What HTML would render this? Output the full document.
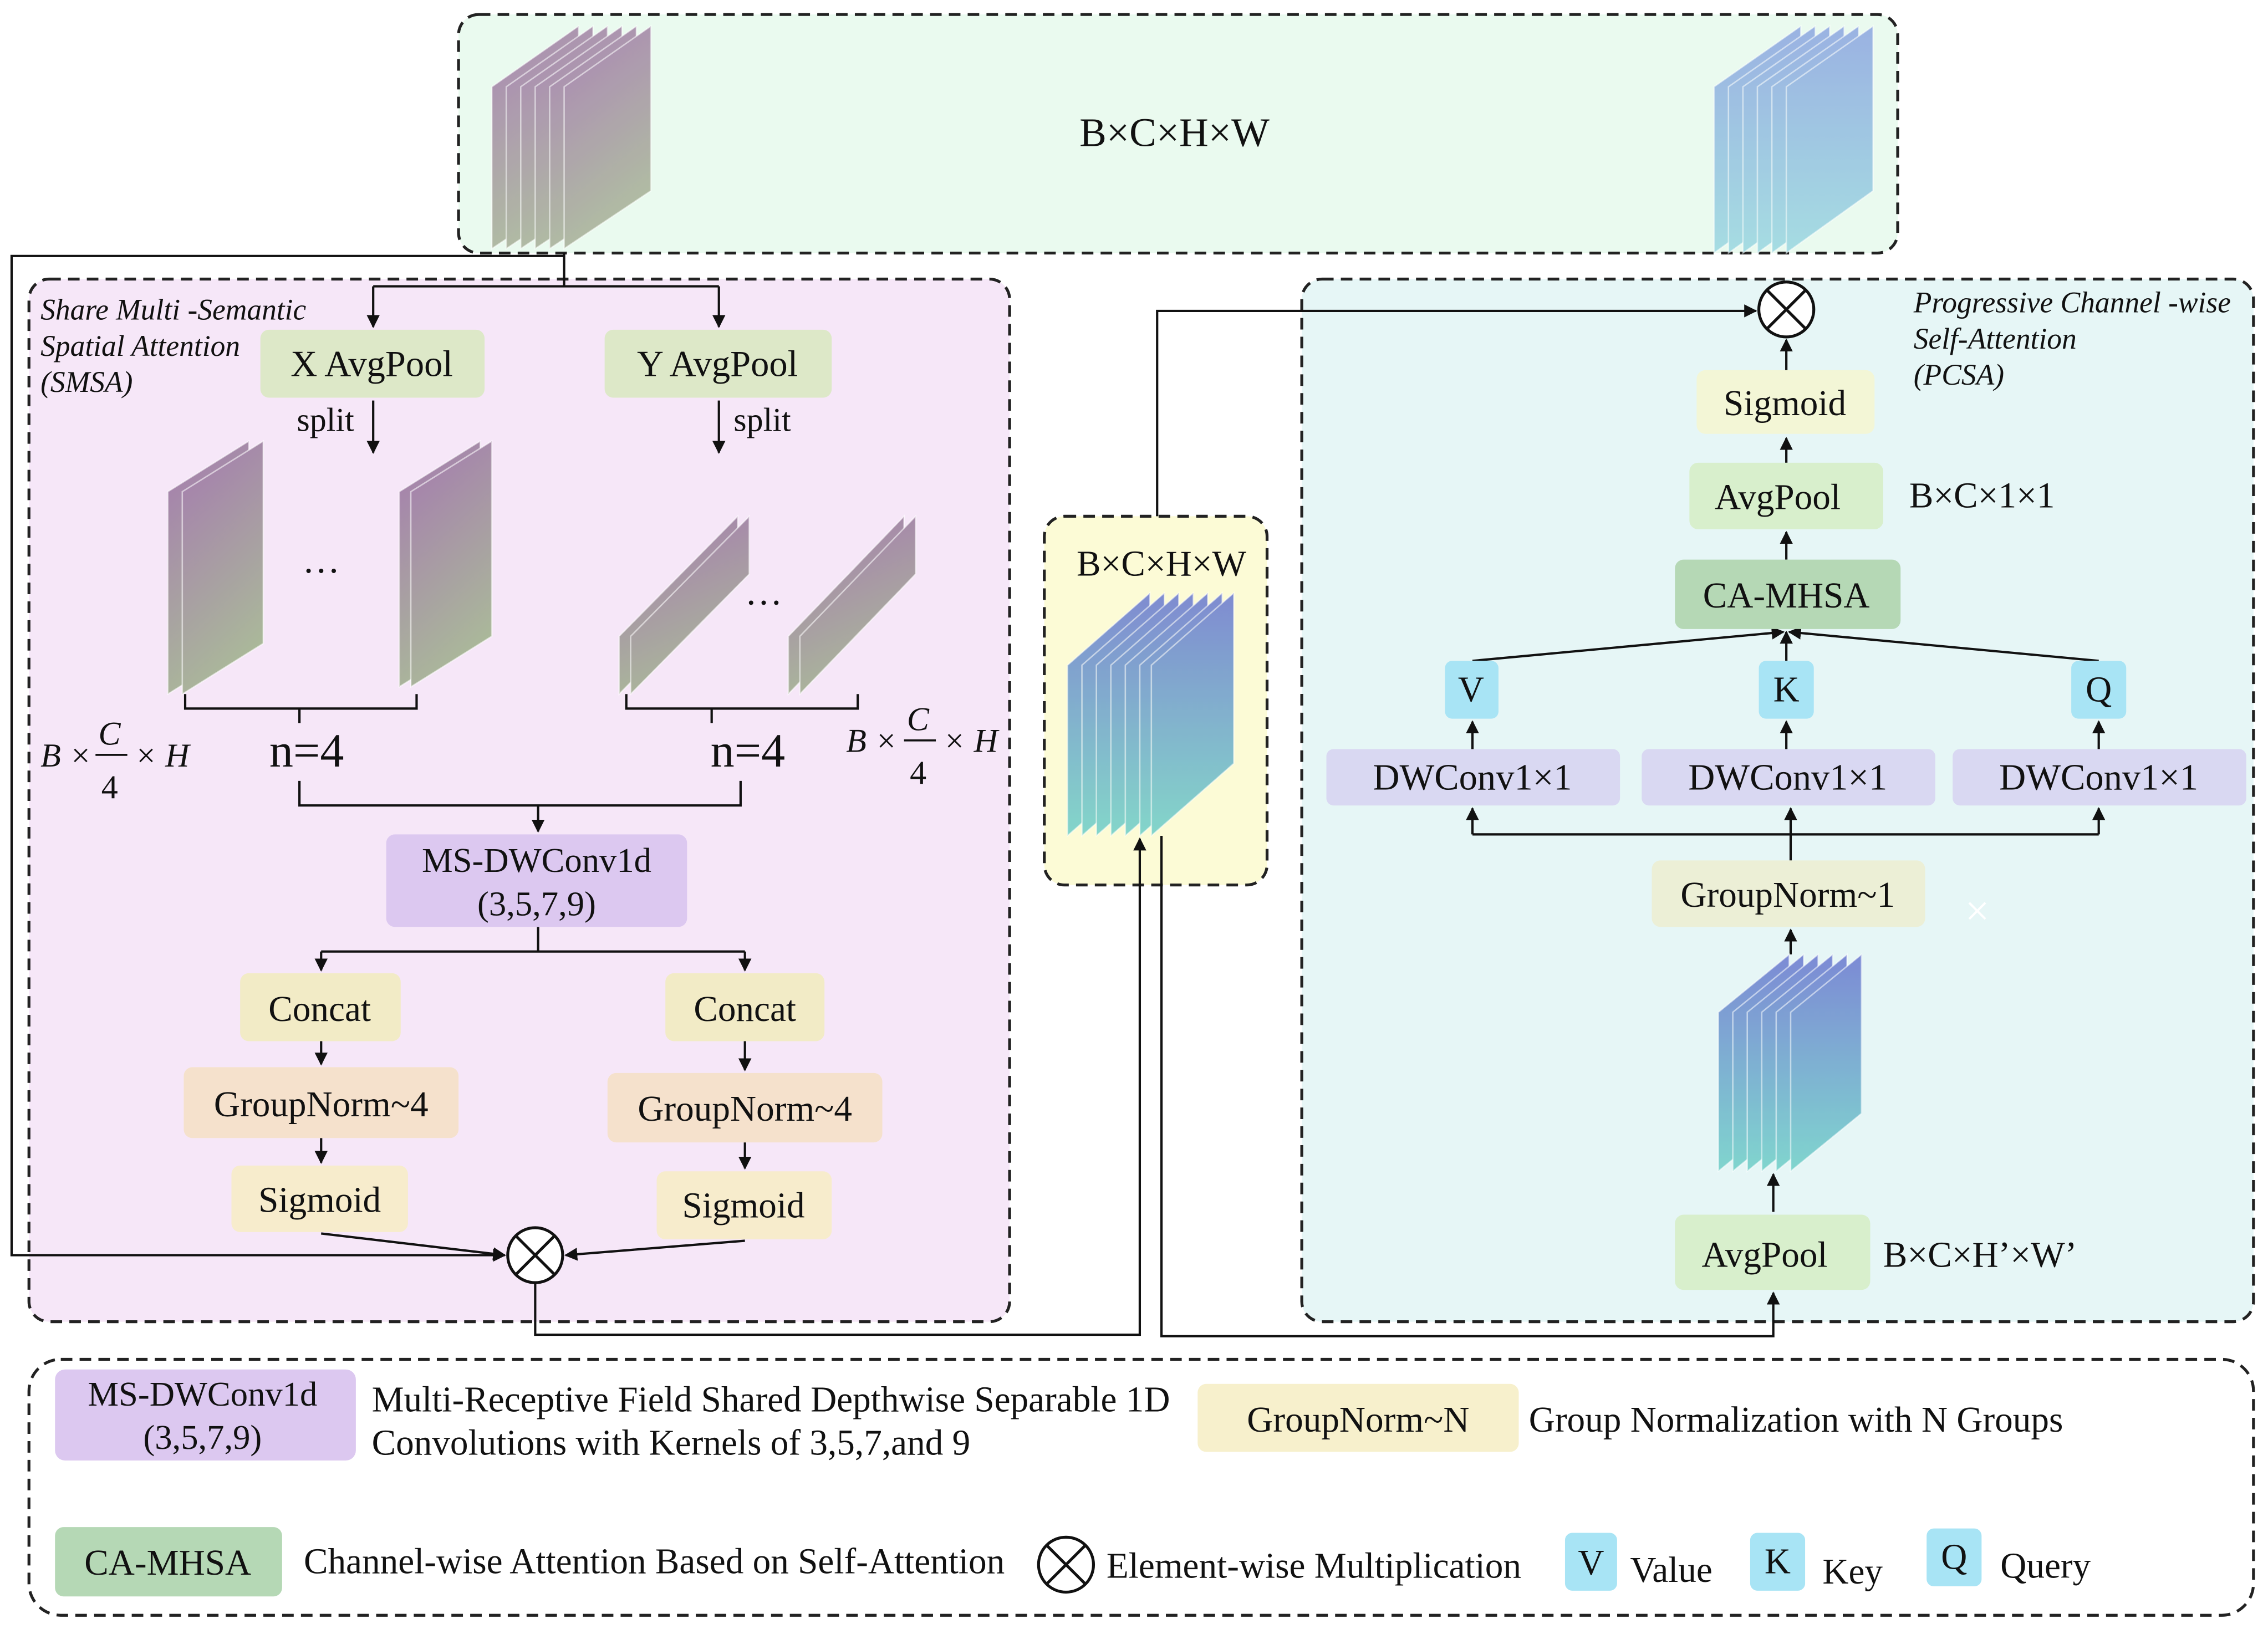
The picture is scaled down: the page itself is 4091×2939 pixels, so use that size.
<!DOCTYPE html>
<html><head><meta charset="utf-8"><style>
html,body{margin:0;padding:0;background:#fff}
svg{display:block}
text{font-family:"Liberation Serif",serif;fill:#111}
.st polygon{stroke:#fff;stroke-opacity:0.55;stroke-width:1}
</style></head><body>
<svg width="4091" height="2939" viewBox="0 0 1568 1126.5" xmlns="http://www.w3.org/2000/svg">
<defs>
<linearGradient id="gp" x1="0" y1="0" x2="0.3" y2="1"><stop offset="0" stop-color="#a57aaf"/><stop offset="1" stop-color="#aab89a"/></linearGradient>
<linearGradient id="gb" x1="0" y1="0" x2="0" y2="1"><stop offset="0" stop-color="#6a78d0"/><stop offset="1" stop-color="#6fd0c8"/></linearGradient>
<linearGradient id="gb2" x1="0" y1="0" x2="0" y2="1"><stop offset="0" stop-color="#8da6e0"/><stop offset="1" stop-color="#9ad8e0"/></linearGradient>
<marker id="ar" viewBox="0 0 10 10" refX="9" refY="5" markerWidth="9" markerHeight="9" orient="auto-start-reverse" markerUnits="userSpaceOnUse"><path d="M0,0L10,5L0,10z" fill="#111"/></marker>
</defs>
<rect x="317" y="10" width="995" height="165" rx="14" fill="#eafaef" stroke="#222" stroke-width="2" stroke-dasharray="8,5"/>
<rect x="20" y="193" width="678" height="721" rx="14" fill="#f6e7f8" stroke="#222" stroke-width="2" stroke-dasharray="8,5"/>
<rect x="900" y="193" width="658" height="721" rx="14" fill="#e6f6f6" stroke="#222" stroke-width="2" stroke-dasharray="8,5"/>
<rect x="722" y="357" width="154" height="255" rx="14" fill="#fcfbd6" stroke="#222" stroke-width="2" stroke-dasharray="8,5"/>
<rect x="20" y="940" width="1538" height="177" rx="22" fill="#fff" stroke="#222" stroke-width="2" stroke-dasharray="8,5"/>

<g class="st" fill="url(#gp)" opacity="0.9">
<polygon points="340,60 400,18 400,132 340,172"/>
<polygon points="350,60 410,18 410,132 350,172"/>
<polygon points="360,60 420,18 420,132 360,172"/>
<polygon points="370,60 430,18 430,132 370,172"/>
<polygon points="380,60 440,18 440,132 380,172"/>
<polygon points="390,60 450,18 450,132 390,172"/>
</g>
<g class="st" fill="url(#gb2)" opacity="0.85">
<polygon points="1185,60 1245,18 1245,132 1185,175"/>
<polygon points="1195,60 1255,18 1255,132 1195,175"/>
<polygon points="1205,60 1265,18 1265,132 1205,175"/>
<polygon points="1215,60 1275,18 1275,132 1215,175"/>
<polygon points="1225,60 1285,18 1285,132 1225,175"/>
<polygon points="1235,60 1295,18 1295,132 1235,175"/>
</g>
<text x="812" y="101" font-size="28" text-anchor="middle">B×C×H×W</text>

<g font-style="italic" font-size="20.5"><text x="28" y="221">Share Multi -Semantic</text><text x="28" y="246">Spatial Attention</text><text x="28" y="271">(SMSA)</text></g>
<g fill="none" stroke="#111" stroke-width="1.6">
<path d="M390,175V198M258,198H497"/>
<path d="M258,198V226" marker-end="url(#ar)"/><path d="M497,198V226" marker-end="url(#ar)"/>
<path d="M390,177H8V868H349" marker-end="url(#ar)"/>
<path d="M258,277V313" marker-end="url(#ar)"/><path d="M497,277V313" marker-end="url(#ar)"/>
<path d="M128,480V490H288V480M207,490V500M433,480V490H593V480M492,490V500"/>
<path d="M207,540V557H512V540"/><path d="M372,557V575" marker-end="url(#ar)"/>
<path d="M372,641V658M222,658H515"/><path d="M222,658V671" marker-end="url(#ar)"/><path d="M515,658V671" marker-end="url(#ar)"/>
<path d="M222,720V736" marker-end="url(#ar)"/><path d="M515,720V740" marker-end="url(#ar)"/>
<path d="M222,787V804" marker-end="url(#ar)"/><path d="M515,790V808" marker-end="url(#ar)"/>
<path d="M222,853L349,868" marker-end="url(#ar)"/><path d="M515,858L391,868" marker-end="url(#ar)"/>
<path d="M370,887V923H788V580" marker-end="url(#ar)"/>
<path d="M800,357V215H1214" marker-end="url(#ar)"/>
<path d="M803,578V924H1226V894" marker-end="url(#ar)"/>
</g>
<rect x="180" y="228" width="155" height="47" rx="6" fill="#dde8c8"/><text x="257" y="260" font-size="25.5" text-anchor="middle">X AvgPool</text>
<rect x="418" y="228" width="157" height="47" rx="6" fill="#dde8c8"/><text x="496" y="260" font-size="25.5" text-anchor="middle">Y AvgPool</text>
<text x="225" y="298" font-size="23" text-anchor="middle">split</text><text x="527" y="298" font-size="23" text-anchor="middle">split</text>
<g class="st" fill="url(#gp)">
<polygon points="116,340 172,305 172,445 116,480"/><polygon points="126,340 182,305 182,445 126,480"/>
<polygon points="276,340 332,305 332,440 276,475"/><polygon points="284,340 340,305 340,440 284,475"/>
<polygon points="428,440 510,357 510,397 428,480"/><polygon points="436,440 518,357 518,397 436,480"/>
<polygon points="545,440 625,357 625,397 545,480"/><polygon points="553,440 633,357 633,397 553,480"/>
</g>
<text x="222" y="396" font-size="26" text-anchor="middle">…</text><text x="528" y="418" font-size="26" text-anchor="middle">…</text>
<text x="212" y="530" font-size="33" text-anchor="middle">n=4</text><text x="517" y="530" font-size="33" text-anchor="middle">n=4</text>
<g font-style="italic" font-size="23">
<text x="28" y="530">B ×</text><text x="68" y="515">C</text><line x1="66" y1="522" x2="88" y2="522" stroke="#111" stroke-width="1.4"/><text x="70" y="552" font-style="normal">4</text><text x="93" y="530">× H</text>
<text x="585" y="520">B ×</text><text x="627" y="505">C</text><line x1="625" y1="512" x2="647" y2="512" stroke="#111" stroke-width="1.4"/><text x="629" y="542" font-style="normal">4</text><text x="652" y="520">× H</text>
</g>
<rect x="267" y="577" width="208" height="64" rx="6" fill="#dcc8f0"/><text x="371" y="603" font-size="24" text-anchor="middle">MS-DWConv1d</text><text x="371" y="633" font-size="24" text-anchor="middle">(3,5,7,9)</text>
<rect x="166" y="673" width="111" height="47" rx="6" fill="#f2ebc6"/><text x="221" y="706" font-size="25" text-anchor="middle">Concat</text>
<rect x="460" y="673" width="110" height="47" rx="6" fill="#f2ebc6"/><text x="515" y="706" font-size="25" text-anchor="middle">Concat</text>
<rect x="127" y="738" width="190" height="49" rx="6" fill="#f5e1cc"/><text x="222" y="772" font-size="25" text-anchor="middle">GroupNorm~4</text>
<rect x="420" y="742" width="190" height="48" rx="6" fill="#f5e1cc"/><text x="515" y="775" font-size="25" text-anchor="middle">GroupNorm~4</text>
<rect x="160" y="806" width="122" height="46" rx="6" fill="#f7eccc"/><text x="221" y="838" font-size="25" text-anchor="middle">Sigmoid</text>
<rect x="454" y="810" width="121" height="47" rx="6" fill="#f7eccc"/><text x="514" y="842" font-size="25" text-anchor="middle">Sigmoid</text>
<g fill="#fff" stroke="#111" stroke-width="2"><circle cx="370" cy="868" r="19"/><path d="M357,855L383,881M383,855L357,881"/></g>

<text x="803" y="398" font-size="25" text-anchor="middle">B×C×H×W</text>
<g class="st" fill="url(#gb)" opacity="0.85">
<polygon points="738,460 795,410 795,528 738,578"/><polygon points="748,460 805,410 805,528 748,578"/>
<polygon points="758,460 815,410 815,528 758,578"/><polygon points="768,460 825,410 825,528 768,578"/>
<polygon points="778,460 835,410 835,528 778,578"/><polygon points="788,460 845,410 845,528 788,578"/>
<polygon points="796,460 853,410 853,528 796,578"/>
</g>

<g font-style="italic" font-size="20.5"><text x="1323" y="216">Progressive Channel -wise</text><text x="1323" y="241">Self-Attention</text><text x="1323" y="266">(PCSA)</text></g>
<g fill="none" stroke="#111" stroke-width="1.6">
<path d="M1235,256V235" marker-end="url(#ar)"/>
<path d="M1235,320V303" marker-end="url(#ar)"/>
<path d="M1235,387V368" marker-end="url(#ar)"/>
<path d="M1018,457L1233,437" marker-end="url(#ar)"/><path d="M1235,457V437" marker-end="url(#ar)"/><path d="M1451,457L1237,437" marker-end="url(#ar)"/>
<path d="M1018,518V499" marker-end="url(#ar)"/><path d="M1235,518V499" marker-end="url(#ar)"/><path d="M1451,518V499" marker-end="url(#ar)"/>
<path d="M1238,595V577M1018,577H1451"/>
<path d="M1018,577V559" marker-end="url(#ar)"/><path d="M1238,577V559" marker-end="url(#ar)"/><path d="M1451,577V559" marker-end="url(#ar)"/>
<path d="M1238,660V643" marker-end="url(#ar)"/>
<path d="M1226,838V812" marker-end="url(#ar)"/>
</g>
<g fill="#fff" stroke="#111" stroke-width="2"><circle cx="1235" cy="214" r="19"/><path d="M1222,201L1248,227M1248,201L1222,227"/></g>
<rect x="1173" y="256" width="123" height="44" rx="6" fill="#f3f6d6"/><text x="1234" y="287" font-size="25" text-anchor="middle">Sigmoid</text>
<rect x="1168" y="320" width="134" height="46" rx="6" fill="#d8efcc"/><text x="1229" y="352" font-size="25" text-anchor="middle">AvgPool</text>
<text x="1320" y="351" font-size="25">B×C×1×1</text>
<rect x="1158" y="387" width="156" height="48" rx="6" fill="#b5d8b5"/><text x="1235" y="420" font-size="25" text-anchor="middle">CA-MHSA</text>
<rect x="999" y="457" width="37" height="40" rx="5" fill="#a8e4f5"/><text x="1017" y="485" font-size="25" text-anchor="middle">V</text>
<rect x="1216" y="457" width="38" height="40" rx="5" fill="#a8e4f5"/><text x="1235" y="485" font-size="25" text-anchor="middle">K</text>
<rect x="1432" y="457" width="38" height="40" rx="5" fill="#a8e4f5"/><text x="1451" y="485" font-size="25" text-anchor="middle">Q</text>
<rect x="917" y="518" width="203" height="39" rx="5" fill="#d9d8f2"/><text x="1018" y="546" font-size="25.5" text-anchor="middle">DWConv1×1</text>
<rect x="1135" y="518" width="203" height="39" rx="5" fill="#d9d8f2"/><text x="1236" y="546" font-size="25.5" text-anchor="middle">DWConv1×1</text>
<rect x="1350" y="518" width="203" height="39" rx="5" fill="#d9d8f2"/><text x="1451" y="546" font-size="25.5" text-anchor="middle">DWConv1×1</text>
<rect x="1142" y="595" width="189" height="46" rx="6" fill="#ecefd6"/><text x="1236" y="627" font-size="25" text-anchor="middle">GroupNorm~1</text>
<text x="1367" y="640" font-size="30" text-anchor="middle" style="fill:#fff">×</text>
<g class="st" fill="url(#gb)" opacity="0.85">
<polygon points="1188,700 1237,660 1237,770 1188,810"/><polygon points="1198,700 1247,660 1247,770 1198,810"/>
<polygon points="1208,700 1257,660 1257,770 1208,810"/><polygon points="1218,700 1267,660 1267,770 1218,810"/>
<polygon points="1228,700 1277,660 1277,770 1228,810"/><polygon points="1238,700 1287,660 1287,770 1238,810"/>
</g>
<rect x="1158" y="840" width="135" height="52" rx="6" fill="#d8efcc"/><text x="1220" y="876" font-size="25" text-anchor="middle">AvgPool</text>
<text x="1302" y="876" font-size="25">B×C×H’×W’</text>

<rect x="38" y="947" width="208" height="63" rx="7" fill="#dcc8f0"/><text x="140" y="972" font-size="24" text-anchor="middle">MS-DWConv1d</text><text x="140" y="1002" font-size="24" text-anchor="middle">(3,5,7,9)</text>
<text x="257" y="976" font-size="25">Multi-Receptive Field Shared Depthwise Separable 1D</text>
<text x="257" y="1006" font-size="25">Convolutions with Kernels of 3,5,7,and 9</text>
<rect x="828" y="957" width="222" height="47" rx="6" fill="#f7f0cc"/><text x="939" y="990" font-size="25" text-anchor="middle">GroupNorm~N</text>
<text x="1057" y="990" font-size="25">Group Normalization with N Groups</text>
<rect x="38" y="1056" width="157" height="48" rx="6" fill="#b5d8b5"/><text x="116" y="1089" font-size="25" text-anchor="middle">CA-MHSA</text>
<text x="210" y="1088" font-size="25">Channel-wise Attention Based on Self-Attention</text>
<g fill="#fff" stroke="#111" stroke-width="2"><circle cx="737" cy="1082" r="19"/><path d="M724,1069L750,1095M750,1069L724,1095"/></g>
<text x="765" y="1091" font-size="25">Element-wise Multiplication</text>
<rect x="1082" y="1060" width="36" height="40" rx="5" fill="#a8e4f5"/><text x="1100" y="1089" font-size="25" text-anchor="middle">V</text>
<text x="1127" y="1094" font-size="25">Value</text>
<rect x="1210" y="1060" width="38" height="40" rx="5" fill="#a8e4f5"/><text x="1229" y="1088" font-size="25" text-anchor="middle">K</text>
<text x="1260" y="1095" font-size="25">Key</text>
<rect x="1332" y="1057" width="38" height="40" rx="5" fill="#a8e4f5"/><text x="1351" y="1085" font-size="25" text-anchor="middle">Q</text>
<text x="1383" y="1091" font-size="25">Query</text>
</svg>
</body></html>
